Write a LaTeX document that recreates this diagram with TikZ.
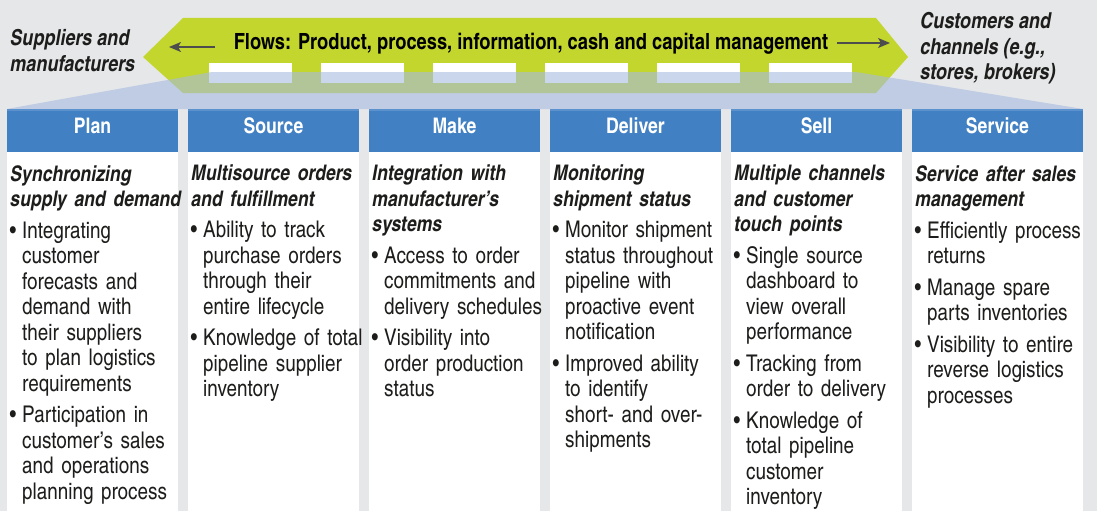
\documentclass[tikz,border=0pt]{standalone}
\usepackage{fontspec}
\setmainfont{texgyreheroscn}[Extension=.otf,UprightFont=*-regular,BoldFont=*-bold,ItalicFont=*-italic,BoldItalicFont=*-bolditalic]
\usepackage{tikz}
\usetikzlibrary{positioning,arrows.meta}
\definecolor{colorback} {RGB}{230,231,233}
\definecolor{colorflow} {RGB}{195,214,46}
\definecolor{colorhead} {RGB}{65 ,128,195}
\definecolor{colorheadtop}{RGB}{91,145,204}
\definecolor{colorshade}{RGB}{165,187,223}
\definecolor{colorarrow}{RGB}{77 ,77 ,77 }
\definecolor{colortext} {RGB}{29 ,29 ,27 }
\newcommand{\btitle}[1]{{\fontsize{21.5}{25.5}\selectfont\bfseries\itshape #1}\par}
\newcommand{\bitem}[1]{\par\vspace{6pt}{\leftskip=12pt\noindent\llap{\textbullet\hspace{6pt}}#1\par}}

\begin{document}
\begin{tikzpicture}[
    x=1pt, y=-1pt,
    hdr/.style={fill=colorhead,text=white,font={\fontsize{21.5}{24}\selectfont\bfseries},
        minimum width=171pt,minimum height=43pt,inner sep=0pt,outer sep=0pt,
        text height=15pt,text depth=10pt},
    colbody/.style={fill=white,minimum width=171pt,minimum height=359pt,inner sep=0pt,outer sep=0pt},
    txtcol/.style={text=colortext,font={\fontsize{23}{25.5}\selectfont},align=left,
        text width=180pt,inner sep=0pt,anchor=north west,
        execute at begin node={\parindent=0pt\parskip=0pt}},
    sidetxt/.style={text=colortext,font={\fontsize{22}{25.7}\selectfont\bfseries\itshape},
        align=left,inner sep=0pt,anchor=north west},
    flowtxt/.style={text=black,font={\fontsize{22.3}{24}\selectfont\bfseries},inner sep=0pt,anchor=base},
    flowarrow/.style={colorarrow,line width=1.5pt,-{Stealth[length=12pt,width=10pt,inset=3pt]}},
]

    % Background
    \fill[colorback] (0,0) rectangle (1097,511);

    % Flow band
    \fill[colorflow] (143,57) -- (183,18) -- (876,18) -- (908,57) -- (876,93) -- (183,93) -- cycle;
    \fill[white] (209,63) rectangle +(83,20);
    \fill[white] (321,63) rectangle +(83,20);
    \fill[white] (433,63) rectangle +(83,20);
    \fill[white] (545,63) rectangle +(83,20);
    \fill[white] (657,63) rectangle +(83,20);
    \fill[white] (769,63) rectangle +(83,20);
    \fill[colorshade,fill opacity=0.6] (7,109) -- (212,72) -- (856,72) -- (1083,109) -- cycle;

    \node[flowtxt] (flows) at (531,49.5) {Flows: Product, process, information, cash and capital management};
    \coordinate (ltail) at (215,47);
    \coordinate (lhead) at (169,47);
    \coordinate (rtail) at (837,43);
    \coordinate (rhead) at (890,43);
    \draw[flowarrow] (ltail) -- (lhead);
    \draw[flowarrow] (rtail) -- (rhead);

    \node[sidetxt] (suppliers) at (10,29) {Suppliers and\\manufacturers};
    \node[sidetxt] (customers) at (920,12) {Customers and\\channels (e.g.,\\stores, brokers)};

    % Column heads
    \node[hdr] (plan)    at (92.5 ,130.5) {Plan};
    \node[hdr] (source)  at (273.5,130.5) {Source};
    \node[hdr] (make)    at (454.5,130.5) {Make};
    \node[hdr] (deliver) at (635.5,130.5) {Deliver};
    \node[hdr] (sell)    at (816.5,130.5) {Sell};
    \node[hdr] (service) at (997.5,130.5) {Service};
    \fill[colorheadtop] (plan.north west)    rectangle ([yshift=-2pt]plan.north east);
    \fill[colorheadtop] (source.north west)  rectangle ([yshift=-2pt]source.north east);
    \fill[colorheadtop] (make.north west)    rectangle ([yshift=-2pt]make.north east);
    \fill[colorheadtop] (deliver.north west) rectangle ([yshift=-2pt]deliver.north east);
    \fill[colorheadtop] (sell.north west)    rectangle ([yshift=-2pt]sell.north east);
    \fill[colorheadtop] (service.north west) rectangle ([yshift=-2pt]service.north east);

    % Column bodies
    \node[colbody,below=0pt of plan]    (planbody)    {};
    \node[colbody,below=0pt of source]  (sourcebody)  {};
    \node[colbody,below=0pt of make]    (makebody)    {};
    \node[colbody,below=0pt of deliver] (deliverbody) {};
    \node[colbody,below=0pt of sell]    (sellbody)    {};
    \node[colbody,below=0pt of service] (servicebody) {};

    % Column texts
    \node[txtcol,below right=13pt and 3pt of plan.south west] (plantxt) {%
        \btitle{Synchronizing\\supply and demand}
        \bitem{Integrating\\customer\\forecasts and\\demand with\\their suppliers\\to plan logistics\\requirements}
        \bitem{Participation in\\customer's sales\\and operations\\planning process}};
    \node[txtcol,below right=13pt and 3pt of source.south west] (sourcetxt) {%
        \btitle{Multisource orders\\and fulfillment}
        \bitem{Ability to track\\purchase orders\\through their\\entire lifecycle}
        \bitem{Knowledge of total\\pipeline supplier\\inventory}};
    \node[txtcol,below right=13pt and 3pt of make.south west] (maketxt) {%
        \btitle{Integration with\\manufacturer's\\systems}
        \bitem{Access to order\\commitments and\\delivery schedules}
        \bitem{Visibility into\\order production\\status}};
    \node[txtcol,below right=13pt and 3pt of deliver.south west] (delivertxt) {%
        \btitle{Monitoring\\shipment status}
        \bitem{Monitor shipment\\status throughout\\pipeline with\\proactive event\\notification}
        \bitem{Improved ability\\to identify\\short- and over-\\shipments}};
    \node[txtcol,below right=13pt and 3pt of sell.south west] (selltxt) {%
        \btitle{Multiple channels\\and customer\\touch points}
        \bitem{Single source\\dashboard to\\view overall\\performance}
        \bitem{Tracking from\\order to delivery}
        \bitem{Knowledge of\\total pipeline\\customer\\inventory}};
    \node[txtcol,below right=13pt and 3pt of service.south west] (servicetxt) {%
        \btitle{Service after sales\\management}
        \bitem{Efficiently process\\returns}
        \bitem{Manage spare\\parts inventories}
        \bitem{Visibility to entire\\reverse logistics\\processes}};

\end{tikzpicture}
\end{document}
